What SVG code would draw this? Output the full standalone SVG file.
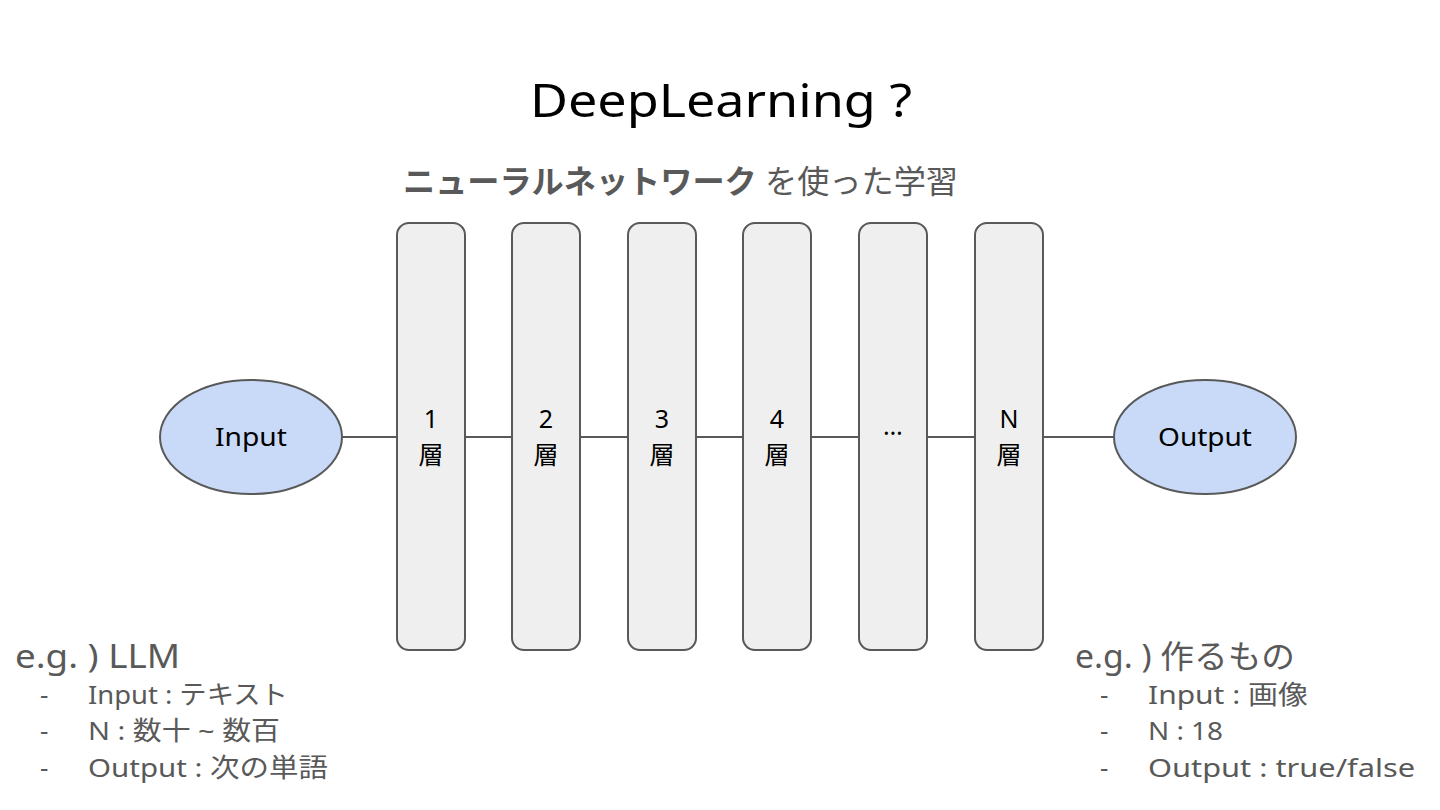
<svg xmlns="http://www.w3.org/2000/svg" width="1440" height="810" viewBox="0 0 1440 810">
<style>
text{font-family:"Noto Sans","Noto Sans CJK JP",sans-serif;}
.layer{fill:#efefef;stroke:#595959;stroke-width:2;}
.oval{fill:#c9daf8;stroke:#595959;stroke-width:2;}
.conn{stroke:#595959;stroke-width:2;fill:none;}
.lbl{font-size:25px;fill:#000;text-anchor:middle;}
.big{font-size:32px;fill:#595959;}
.item{font-size:26px;fill:#595959;}
</style>
<rect width="1440" height="810" fill="#fff"/>
<text x="721" y="117" font-size="46" text-anchor="middle" fill="#000" textLength="382" lengthAdjust="spacingAndGlyphs">DeepLearning ?</text>
<text x="403" y="193" font-size="32" fill="#595959" textLength="555" lengthAdjust="spacingAndGlyphs"><tspan font-weight="bold">ニューラルネットワーク</tspan> を使った学習</text>
<g id="connectors">
<line class="conn" x1="342" y1="437" x2="397" y2="437"/>
<line class="conn" x1="465" y1="437" x2="512" y2="437"/>
<line class="conn" x1="580" y1="437" x2="628" y2="437"/>
<line class="conn" x1="696" y1="437" x2="743" y2="437"/>
<line class="conn" x1="811" y1="437" x2="859" y2="437"/>
<line class="conn" x1="927" y1="437" x2="975" y2="437"/>
<line class="conn" x1="1043" y1="437" x2="1114" y2="437"/>
</g>
<g id="input"><ellipse class="oval" cx="251" cy="437" rx="91" ry="57"/><text class="lbl" x="251" y="446" textLength="72" lengthAdjust="spacingAndGlyphs">Input</text></g>
<g id="output"><ellipse class="oval" cx="1205" cy="437" rx="91" ry="57"/><text class="lbl" x="1205" y="446" textLength="94" lengthAdjust="spacingAndGlyphs">Output</text></g>
<g id="layer1"><rect class="layer" x="397" y="223" width="68" height="427" rx="12"/><text class="lbl" x="431" y="428">1</text><text class="lbl" x="431" y="464">層</text></g>
<g id="layer2"><rect class="layer" x="512" y="223" width="68" height="427" rx="12"/><text class="lbl" x="546" y="428">2</text><text class="lbl" x="546" y="464">層</text></g>
<g id="layer3"><rect class="layer" x="628" y="223" width="68" height="427" rx="12"/><text class="lbl" x="662" y="428">3</text><text class="lbl" x="662" y="464">層</text></g>
<g id="layer4"><rect class="layer" x="743" y="223" width="68" height="427" rx="12"/><text class="lbl" x="777" y="428">4</text><text class="lbl" x="777" y="464">層</text></g>
<g id="layerdots"><rect class="layer" x="859" y="223" width="68" height="427" rx="12"/><text class="lbl" x="893" y="435">…</text></g>
<g id="layerN"><rect class="layer" x="975" y="223" width="68" height="427" rx="12"/><text class="lbl" x="1009" y="428">N</text><text class="lbl" x="1009" y="464">層</text></g>
<g id="example-left">
<text class="big" x="15" y="668" textLength="165" lengthAdjust="spacingAndGlyphs">e.g. ) LLM</text>
<text class="item" x="40" y="704">-</text><text class="item" x="88" y="704" textLength="200" lengthAdjust="spacingAndGlyphs">Input : テキスト</text>
<text class="item" x="40" y="740">-</text><text class="item" x="88" y="740" textLength="192" lengthAdjust="spacingAndGlyphs">N : 数十 ~ 数百</text>
<text class="item" x="40" y="777">-</text><text class="item" x="88" y="777" textLength="240" lengthAdjust="spacingAndGlyphs">Output : 次の単語</text>
</g>
<g id="example-right">
<text class="big" x="1075" y="668" textLength="220" lengthAdjust="spacingAndGlyphs">e.g. ) 作るもの</text>
<text class="item" x="1100" y="704">-</text><text class="item" x="1148" y="704" textLength="160" lengthAdjust="spacingAndGlyphs">Input : 画像</text>
<text class="item" x="1100" y="740">-</text><text class="item" x="1148" y="740" textLength="75" lengthAdjust="spacingAndGlyphs">N : 18</text>
<text class="item" x="1100" y="777">-</text><text class="item" x="1148" y="777" textLength="267" lengthAdjust="spacingAndGlyphs">Output : true/false</text>
</g>
</svg>
